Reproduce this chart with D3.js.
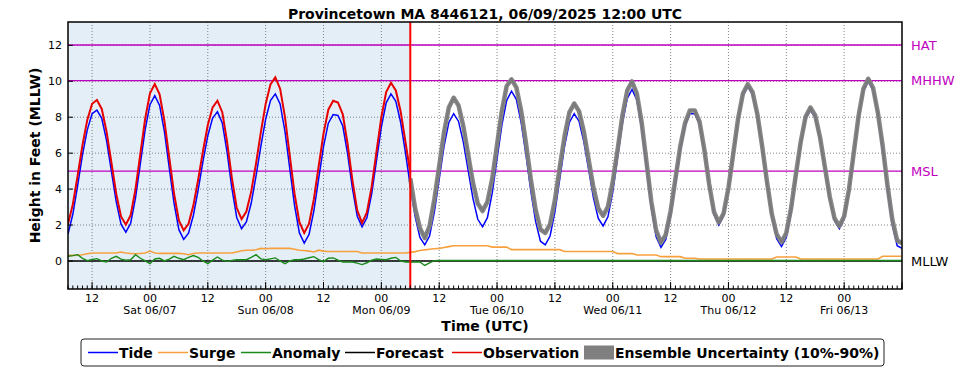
<!DOCTYPE html>
<html>
<head>
<meta charset="utf-8">
<script src="https://cdn.jsdelivr.net/npm/d3@7"></script>
<style>
  body { margin: 0; background: #fff; }
  text { font-family: "DejaVu Sans", sans-serif; }
</style>
</head>
<body>
<div id="chart"></div>
<script>
// hourly series, first value at 2025-06-06 07:00 UTC
const START = Date.UTC(2025, 5, 6, 7);
const END = Date.UTC(2025, 5, 13, 12);
const NOW = Date.UTC(2025, 5, 9, 6);
const FORECAST_START_HOUR = 71;

const tide = [
  1.5, 2.6, 4.2, 5.9, 7.3, 8.2, 8.4, 7.94, 6.7, 5.0,
  3.3, 2.05, 1.6, 2.1, 3.5, 5.4, 7.3, 8.7, 9.2, 8.66,
  7.2, 5.2, 3.2, 1.74, 1.2, 1.55, 2.53, 3.96, 5.54, 6.97,
  7.95, 8.3, 7.68, 6.06, 4.04, 2.42, 1.8, 2.17, 3.21, 4.72,
  6.38, 7.89, 8.93, 9.3, 8.74, 7.22, 5.15, 3.08, 1.56, 1.0,
  1.48, 2.79, 4.58, 6.36, 7.67, 8.15, 8.1, 7.51, 5.96, 4.04,
  2.49, 1.9, 2.4, 3.75, 5.6, 7.45, 8.8, 9.3, 8.89, 7.72,
  6.03, 4.17, 2.48, 1.31, 0.9, 1.39, 2.73, 4.55, 6.38, 7.71,
  8.2, 7.78, 6.63, 5.05, 3.48, 2.32, 1.9, 2.41, 3.79, 5.68,
  7.56, 8.94, 9.45, 9.0, 7.7, 5.9, 3.9, 2.2, 1.1, 0.9,
  1.39, 2.73, 4.55, 6.38, 7.71, 8.2, 7.78, 6.64, 5.08, 3.51,
  2.37, 1.95, 2.46, 3.85, 5.75, 7.65, 9.04, 9.55, 8.96, 7.35,
  5.15, 2.95, 1.34, 0.75, 1.2, 2.5, 4.3, 6.1, 7.5, 8.2,
  8.2, 7.61, 6.06, 4.14, 2.59, 2.0, 2.52, 3.93, 5.85, 7.78,
  9.18, 9.7, 9.26, 8.03, 6.24, 4.26, 2.47, 1.24, 0.8, 1.31,
  2.7, 4.6, 6.5, 7.89, 8.4, 7.96, 6.75, 5.1, 3.45, 2.24,
  1.8, 2.35, 3.85, 5.9, 7.95, 9.45, 10.0, 9.5, 8.1, 6.1,
  3.9, 2.0, 0.85, 0.7
];

const observation = [
  2.05, 3.15, 4.75, 6.45, 7.85, 8.75, 8.96, 8.46, 7.2, 5.48,
  3.75, 2.48, 2.02, 2.55, 4.0, 5.95, 7.9, 9.33, 9.85, 9.28,
  7.8, 5.77, 3.75, 2.26, 1.7, 2.07, 3.08, 4.53, 6.12, 7.57,
  8.55, 8.92, 8.28, 6.64, 4.6, 2.96, 2.33, 2.75, 3.86, 5.42,
  7.16, 8.74, 9.83, 10.22, 9.59, 8.02, 5.87, 3.73, 2.16, 1.56,
  2.08, 3.44, 5.28, 7.08, 8.42, 8.92, 8.82, 8.16, 6.51, 4.49,
  2.81, 2.12, 2.7, 4.15, 6.1, 8.0, 9.4, 9.92, 9.49, 8.32,
  6.63, 4.9
];

const surge = [
  0.31, 0.31, 0.32, 0.35, 0.4, 0.44, 0.44, 0.44, 0.44, 0.44,
  0.44, 0.5, 0.44, 0.42, 0.4, 0.42, 0.44, 0.55, 0.44, 0.42,
  0.42, 0.42, 0.42, 0.42, 0.4, 0.35, 0.42, 0.44, 0.44, 0.44,
  0.44, 0.44, 0.44, 0.44, 0.44, 0.5, 0.57, 0.6, 0.6, 0.62,
  0.7, 0.68, 0.7, 0.7, 0.7, 0.7, 0.7, 0.65, 0.6, 0.58,
  0.55, 0.5, 0.6, 0.55, 0.53, 0.53, 0.53, 0.53, 0.53, 0.53,
  0.53, 0.44, 0.44, 0.44, 0.44, 0.44, 0.44, 0.44, 0.44, 0.44,
  0.44, 0.48, 0.52, 0.58, 0.62, 0.65, 0.68, 0.7, 0.75, 0.8,
  0.85, 0.85, 0.85, 0.85, 0.85, 0.85, 0.85, 0.85, 0.77, 0.77,
  0.77, 0.77, 0.63, 0.63, 0.63, 0.63, 0.63, 0.63, 0.63, 0.63,
  0.63, 0.63, 0.63, 0.53, 0.53, 0.53, 0.53, 0.53, 0.53, 0.53,
  0.53, 0.53, 0.53, 0.53, 0.41, 0.41, 0.41, 0.41, 0.33, 0.33,
  0.33, 0.33, 0.33, 0.24, 0.24, 0.24, 0.24, 0.24, 0.15, 0.15,
  0.15, 0.11, 0.11, 0.11, 0.11, 0.11, 0.11, 0.11, 0.11, 0.11,
  0.11, 0.11, 0.11, 0.11, 0.11, 0.11, 0.11, 0.22, 0.22, 0.22,
  0.22, 0.22, 0.11, 0.11, 0.11, 0.11, 0.11, 0.11, 0.11, 0.11,
  0.11, 0.11, 0.11, 0.11, 0.11, 0.11, 0.11, 0.11, 0.11, 0.26,
  0.26, 0.26, 0.26, 0.26
];

const anomaly = [
  0.26, 0.3, 0.35, 0.15, 0.02, 0.08, 0.13, 0.0, -0.06, 0.15,
  0.26, 0.1, 0.04, 0.07, 0.35, 0.15, 0.0, -0.15, 0.11, 0.15,
  0.0, 0.1, 0.26, 0.15, 0.07, 0.2, 0.3, 0.2, 0.0, -0.15,
  0.05, 0.22, 0.05, -0.02, 0.03, 0.07, 0.07, 0.07, 0.2, 0.35,
  0.12, 0.07, 0.12, 0.17, 0.0, -0.15, 0.0, 0.07, 0.07, 0.11,
  0.18, 0.24, 0.08, -0.04, 0.15, 0.17, 0.05, -0.06, -0.06, -0.06,
  -0.12, -0.2, -0.1, 0.05, 0.11, 0.09, 0.07, 0.15, 0.2, 0.0,
  -0.06, -0.06, -0.06, -0.06, -0.25, -0.1, 0.02, 0.03, 0.03, 0.03,
  0.03, 0.03, 0.03, 0.03, 0.03, 0.03, 0.03, 0.03, 0.03, 0.03,
  0.03, 0.03, 0.03, 0.03, 0.03, 0.03, 0.03, 0.03, 0.03, 0.03,
  0.03, 0.03, 0.03, 0.03, 0.03, 0.03, 0.03, 0.03, 0.03, 0.03,
  0.03, 0.03, 0.03, 0.03, 0.03, 0.03, 0.03, 0.03, 0.03, 0.03,
  0.03, 0.03, 0.03, 0.03, 0.03, 0.03, 0.03, 0.03, 0.03, 0.03,
  0.03, 0.03, 0.03, 0.03, 0.03, 0.03, 0.03, 0.03, 0.03, 0.03,
  0.03, 0.03, 0.03, 0.03, 0.03, 0.03, 0.03, 0.03, 0.03, 0.03,
  0.03, 0.03, 0.03, 0.03, 0.03, 0.03, 0.03, 0.03, 0.03, 0.03,
  0.03, 0.03, 0.03, 0.03, 0.03, 0.03, 0.03, 0.03, 0.03, 0.03,
  0.03, 0.03, 0.03, 0.03
];

// forecast / ensemble median, hourly from hour 71
const forecast = [
  4.6, 2.94, 1.83, 1.27, 1.94, 3.44, 5.28, 7.16, 8.54,
  9.08, 8.66, 7.51, 5.93, 4.36, 3.2, 2.78, 3.29, 4.59, 6.48,
  8.36, 9.74, 10.11, 9.66, 8.36, 6.56, 4.56, 2.86, 1.76, 1.56,
  2.05, 3.39, 5.21, 6.94, 8.27, 8.76, 8.34, 7.2, 5.64, 4.07,
  2.93, 2.51, 3.02, 4.41, 6.19, 8.09, 9.48, 9.99, 9.32, 7.71,
  5.51, 3.31, 1.7, 1.02, 1.47, 2.77, 4.57, 6.37, 7.68, 8.38,
  8.38, 7.75, 6.2, 4.28, 2.73, 2.14, 2.66, 4.07, 5.99, 7.92,
  9.32, 9.84, 9.4, 8.17, 6.38, 4.4, 2.61, 1.49, 1.05, 1.56,
  2.95, 4.85, 6.64, 8.03, 8.54, 8.1, 6.89, 5.24, 3.59, 2.38,
  1.94, 2.49, 3.99, 6.04, 8.09, 9.59, 10.14, 9.64, 8.24, 6.39,
  4.19, 2.29, 1.14, 0.99
];

const datumNames = ["HAT", "MHHW", "MSL", "MLLW"];
const datumValues = [12.02, 10.04, 5.0, 0];
const yTicks = [0, 2, 4, 6, 8, 10, 12];

const legendNames = ["Tide", "Surge", "Anomaly", "Forecast", "Observation", "Ensemble Uncertainty (10%-90%)"];

/***** SETUP *****/
const width = 969, height = 370;
const margin = {top: 22, left: 68, right: 67, bottom: 81};
const plotW = width - margin.left - margin.right;
const plotH = height - margin.top - margin.bottom;

const colors = {
  tide: "#0000ff", surge: "#f7a13e", anomaly: "#1a8a1a", forecast: "#000000",
  obs: "#e60000", ens: "#808080", datum: "#c000c0", past: "#e4eef6"
};

const svg = d3.select("#chart").append("svg")
  .attr("width", width).attr("height", height);
svg.append("rect").attr("width", width).attr("height", height).attr("fill", "#fff");

const x = d3.scaleUtc().domain([START, END]).range([margin.left, margin.left + plotW]);
const y = d3.scaleLinear().domain([-1.56, 13.3]).range([margin.top + plotH, margin.top]);

const hourT = (i) => START + i * 3600e3;
const series = (arr, offset = 0) => arr.map((v, i) => ({t: hourT(i + offset), v}));

const plot = svg.append("g");
const clipId = "clipPlot";
svg.append("clipPath").attr("id", clipId).append("rect")
  .attr("x", margin.left).attr("y", margin.top).attr("width", plotW).attr("height", plotH);
plot.attr("clip-path", `url(#${clipId})`);

// past shading
plot.append("rect")
  .attr("x", x(START)).attr("y", margin.top)
  .attr("width", x(NOW) - x(START)).attr("height", plotH)
  .attr("fill", colors.past);

/***** GRID *****/
const majorTicks = x.ticks(d3.utcHour.every(12));
const minorTicks = x.ticks(d3.utcHour.every(1));
const labelTicks = majorTicks.filter(d => +d < END);

plot.selectAll(".vgrid").data(majorTicks).enter().append("line")
  .attr("x1", d => x(d)).attr("x2", d => x(d))
  .attr("y1", margin.top).attr("y2", margin.top + plotH)
  .attr("stroke", "#666").attr("stroke-width", 0.8).attr("stroke-dasharray", "1,2");

plot.selectAll(".hgrid").data(yTicks).enter().append("line")
  .attr("x1", margin.left).attr("x2", margin.left + plotW)
  .attr("y1", d => y(d)).attr("y2", d => y(d))
  .attr("stroke", "#666").attr("stroke-width", 0.8).attr("stroke-dasharray", "1,2");

// datum lines
datumNames.forEach((n, i) => {
  plot.append("line")
    .attr("x1", margin.left).attr("x2", margin.left + plotW)
    .attr("y1", y(datumValues[i])).attr("y2", y(datumValues[i]))
    .attr("stroke", n === "MLLW" ? "#000" : colors.datum)
    .attr("stroke-width", n === "MLLW" ? 1.5 : 1.3);
});

/***** LINES *****/
const line = d3.line().x(d => x(d.t)).y(d => y(d.v));

plot.append("path").datum(series(surge)).attr("d", line)
  .attr("fill", "none").attr("stroke", colors.surge).attr("stroke-width", 1.6);
plot.append("path").datum(series(anomaly)).attr("d", line)
  .attr("fill", "none").attr("stroke", colors.anomaly).attr("stroke-width", 1.4);
plot.append("path").datum(series(tide)).attr("d", line)
  .attr("fill", "none").attr("stroke", colors.tide).attr("stroke-width", 1.5);
plot.append("path").datum(series(forecast, FORECAST_START_HOUR)).attr("d", line)
  .attr("fill", "none").attr("stroke", colors.forecast).attr("stroke-width", 1.5);
plot.append("path").datum(series(forecast, FORECAST_START_HOUR)).attr("d", line)
  .attr("fill", "none").attr("stroke", colors.ens).attr("stroke-width", 4.5)
  .attr("stroke-opacity", 0.95).attr("stroke-linejoin", "round");
plot.append("path").datum(series(observation)).attr("d", line)
  .attr("fill", "none").attr("stroke", colors.obs).attr("stroke-width", 2);

// now line
plot.append("line")
  .attr("x1", x(NOW)).attr("x2", x(NOW))
  .attr("y1", margin.top).attr("y2", margin.top + plotH)
  .attr("stroke", "#ff0000").attr("stroke-width", 2);

/***** FRAME & TICKS *****/
svg.append("rect")
  .attr("x", margin.left).attr("y", margin.top).attr("width", plotW).attr("height", plotH)
  .attr("fill", "none").attr("stroke", "#000").attr("stroke-width", 1.5);

const bottom = margin.top + plotH;
svg.selectAll(".minor").data(minorTicks).enter().append("line")
  .attr("x1", d => x(d)).attr("x2", d => x(d))
  .attr("y1", bottom).attr("y2", bottom - 3.5)
  .attr("stroke", "#000").attr("stroke-width", 1);
svg.selectAll(".major").data(majorTicks).enter().append("line")
  .attr("x1", d => x(d)).attr("x2", d => x(d))
  .attr("y1", bottom).attr("y2", bottom - 7)
  .attr("stroke", "#000").attr("stroke-width", 1);

svg.selectAll(".xlab").data(labelTicks).enter().append("text")
  .attr("x", d => x(d)).attr("y", 302)
  .attr("text-anchor", "middle").attr("font-size", 11)
  .text(d => d3.utcFormat("%H")(d));
svg.selectAll(".daylab").data(labelTicks.filter(d => d.getUTCHours() === 0)).enter().append("text")
  .attr("x", d => x(d)).attr("y", 314)
  .attr("text-anchor", "middle").attr("font-size", 11)
  .text(d => d3.utcFormat("%a %m/%d")(d));

svg.selectAll(".ytick").data(yTicks).enter().append("line")
  .attr("x1", margin.left).attr("x2", margin.left + 5)
  .attr("y1", d => y(d)).attr("y2", d => y(d))
  .attr("stroke", "#000").attr("stroke-width", 1);
svg.selectAll(".ylab").data(yTicks).enter().append("text")
  .attr("x", 62).attr("y", d => y(d)).attr("dy", "0.35em")
  .attr("text-anchor", "end").attr("font-size", 11)
  .text(d => d);

// datum labels
datumNames.forEach((n, i) => {
  svg.append("text")
    .attr("x", 911).attr("y", y(datumValues[i])).attr("dy", "0.36em")
    .attr("font-size", 13)
    .attr("fill", n === "MLLW" ? "#000" : colors.datum)
    .text(n);
});

/***** TITLES *****/
svg.append("text").attr("x", margin.left + plotW / 2).attr("y", 19)
  .attr("text-anchor", "middle").attr("font-size", 14).attr("font-weight", "bold")
  .text("Provincetown MA 8446121, 06/09/2025 12:00 UTC");
svg.append("text").attr("x", margin.left + plotW / 2).attr("y", 331)
  .attr("text-anchor", "middle").attr("font-size", 14).attr("font-weight", "bold")
  .text("Time (UTC)");
svg.append("text")
  .attr("transform", `translate(40,${margin.top + plotH / 2}) rotate(-90)`)
  .attr("text-anchor", "middle").attr("font-size", 14).attr("font-weight", "bold")
  .text("Height in Feet (MLLW)");

/***** LEGEND *****/
const legend = svg.append("g");
legend.append("rect")
  .attr("x", 81).attr("y", 339).attr("width", 803).attr("height", 27).attr("rx", 3)
  .attr("fill", "#fff").attr("stroke", "#222").attr("stroke-width", 1);

const legendColors = [colors.tide, colors.surge, colors.anomaly, colors.forecast, colors.obs, colors.ens];
const legendX = [88, 158, 241, 345, 452, 584];
const ly = 352.5;
legendNames.forEach((n, i) => {
  if (i < 5) {
    legend.append("line")
      .attr("x1", legendX[i]).attr("x2", legendX[i] + 30)
      .attr("y1", ly).attr("y2", ly)
      .attr("stroke", legendColors[i]).attr("stroke-width", 1.5);
  } else {
    legend.append("rect")
      .attr("x", legendX[i]).attr("y", ly - 7).attr("width", 30).attr("height", 14)
      .attr("fill", legendColors[i]);
  }
  legend.append("text")
    .attr("x", legendX[i] + 31).attr("y", ly).attr("dy", "0.36em")
    .attr("font-size", 14).attr("font-weight", "bold")
    .text(n);
});
</script>
</body>
</html>
